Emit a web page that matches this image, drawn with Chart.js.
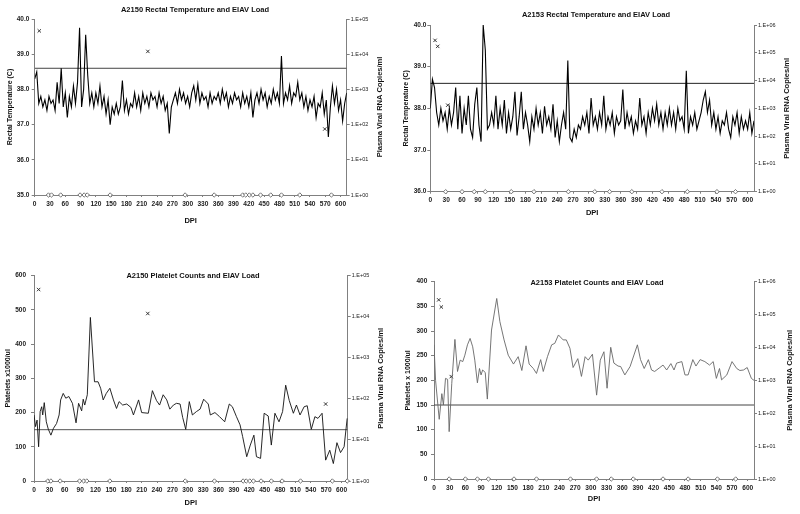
<!DOCTYPE html>
<html>
<head>
<meta charset="utf-8">
<script src="https://cdn.jsdelivr.net/npm/chart.js@4.4.1/dist/chart.umd.min.js"></script>
<style>
  html, body { margin: 0; padding: 0; background: #fff; }
  #wrap { position: relative; width: 800px; height: 514px; }
  canvas { position: absolute; }
</style>
</head>
<body>
<div id="wrap">
  <canvas id="c1" width="400" height="257" style="left:0;top:0"></canvas>
  <canvas id="c2" width="400" height="257" style="left:400px;top:0"></canvas>
  <canvas id="c3" width="400" height="257" style="left:0;top:257px"></canvas>
  <canvas id="c4" width="400" height="257" style="left:400px;top:257px"></canvas>
</div>
<script>
// ---- data ----
const dpiMax = 612;
const tempStep = 4; // days between plotted temperature readings

const tempA2150 = [
  38.3, 38.5, 37.6, 37.8, 37.5, 37.7, 37.4, 37.8, 37.6, 37.7,
  37.4, 38.2, 37.6, 38.6, 37.5, 37.9, 37.2, 37.8, 37.5, 38.1,
  37.6, 38.2, 39.75, 37.5, 38.0, 39.55, 38.4, 37.6, 37.9, 37.5,
  37.9, 37.6, 38.1, 37.5, 37.8, 37.3, 37.7, 37.0, 37.5, 37.3,
  37.6, 37.3, 37.5, 38.25, 37.4, 37.7, 37.3, 37.6, 37.5, 37.9,
  37.5, 37.8, 37.4, 37.9, 37.6, 37.8, 37.5, 37.9, 37.7, 37.8,
  37.5, 37.9, 37.6, 37.8, 37.4, 37.6, 36.75, 37.5, 37.7, 37.9,
  37.6, 38.0, 37.7, 37.9, 37.6, 37.8, 37.5, 37.9, 38.1, 37.7,
  38.15, 37.6, 37.9, 37.7, 37.8, 37.5, 37.9, 37.6, 37.8, 37.7,
  37.9, 37.6, 38.0, 37.7, 37.9, 37.5, 37.8, 37.6, 37.9, 37.7,
  37.8, 37.5, 37.9, 37.6, 37.8, 37.5, 37.9, 37.2, 37.7, 37.9,
  37.6, 38.0, 37.7, 37.9, 37.5, 37.8, 37.6, 38.0, 37.7, 37.9,
  37.6, 38.95, 37.6, 37.9, 37.7, 38.1, 37.6, 37.9, 37.8, 38.2,
  37.7, 37.9, 37.5, 37.8, 37.4, 37.7, 37.5, 37.8, 37.2, 37.6,
  37.5, 37.9, 37.3, 37.7, 36.65, 37.5, 38.1, 37.6, 38.0, 37.4,
  37.7, 37.1, 37.6, 37.9
];

const tempA2153 = [
  38.0, 38.7, 38.5, 37.9, 37.6, 38.0, 37.7, 37.9, 37.5, 38.0,
  37.6, 37.9, 38.5, 37.5, 38.3, 37.4, 38.0, 37.6, 38.3, 37.5,
  37.3, 38.1, 38.5, 37.6, 37.2, 40.0, 39.4, 37.5, 37.6, 37.9,
  37.6, 38.3, 37.5, 38.0, 37.6, 38.2, 37.4, 37.9, 37.5, 37.8,
  38.4, 37.35, 37.8, 38.4, 37.5, 37.9, 37.6, 37.2, 37.8, 37.5,
  38.0, 37.6, 37.9, 37.4, 38.05, 37.6, 37.8, 37.5, 38.1, 37.3,
  37.7, 37.2, 37.6, 37.9, 37.5, 39.15, 37.3, 37.2, 37.5, 37.3,
  37.6, 37.5, 37.8, 37.6, 37.9, 37.4, 38.25, 37.6, 37.8, 37.5,
  37.9, 37.6, 38.3, 37.5, 37.8, 37.6, 37.9, 37.4, 37.8, 37.6,
  37.7, 38.45, 37.5, 37.9, 37.6, 37.8, 37.4, 37.7, 37.5, 38.25,
  37.6, 37.8, 37.4, 37.9, 37.6, 38.0, 37.7, 38.1, 37.6, 37.9,
  37.5, 37.9, 37.6, 38.0, 37.6, 37.9, 37.5, 38.0, 37.7, 37.8,
  37.5, 38.9, 37.4, 37.8, 37.6, 37.9, 37.5, 37.7, 37.9, 38.2,
  38.4, 37.9, 38.2, 37.6, 37.9, 37.5, 37.8, 37.4, 37.7, 37.6,
  37.9, 37.5, 37.3, 37.8, 37.6, 37.9, 37.4, 37.8, 37.5, 37.7,
  37.5, 37.9, 37.4, 37.7
];

const pltA2150Days = [0, 3, 6, 9, 12, 15, 17, 20, 24, 28, 33, 38, 44, 49, 52, 57, 62, 68, 75, 82,
  87, 93, 96, 99, 104, 110, 118, 125, 130, 135, 141, 148, 155, 161, 166, 173, 181, 189, 194, 204,
  210, 223, 231, 239, 245, 252, 259, 265, 272, 278, 285, 290, 296, 303, 309, 317, 324, 331, 340, 344,
  353, 362, 372, 381, 387, 395, 402, 407, 415, 422, 429, 434, 442, 449, 457, 463, 470, 478, 485, 491,
  498, 506, 512, 519, 527, 533, 541, 548, 554, 562, 569, 577, 584, 591, 598, 605, 611];
const pltA2150 = [193, 159, 178, 100, 203, 217, 193, 229, 173, 151, 134, 154, 168, 193, 237, 256, 242, 247, 227, 170,
  227, 205, 239, 222, 252, 478, 290, 290, 271, 237, 256, 271, 237, 212, 232, 222, 225, 215, 193, 237,
  200, 198, 264, 235, 222, 252, 237, 210, 222, 227, 225, 186, 151, 232, 193, 203, 210, 239, 225, 193,
  200, 188, 173, 225, 217, 188, 164, 130, 71, 105, 134, 71, 66, 198, 190, 105, 198, 173, 203, 280,
  235, 198, 222, 193, 217, 220, 151, 188, 183, 198, 61, 90, 51, 112, 83, 100, 183];

const pltA2153Days = [0, 3, 10, 15, 18, 22, 26, 29, 34, 40, 45, 50, 55, 59, 64, 69, 74, 78, 83, 87,
  90, 93, 98, 102, 110, 120, 126, 134, 142, 152, 161, 168, 176, 182, 190, 196, 204, 209, 217, 225,
  231, 238, 247, 253, 260, 266, 275, 282, 289, 295, 303, 311, 318, 325, 331, 338, 344, 352, 357, 365,
  375, 389, 395, 402, 410, 416, 422, 432, 438, 445, 453, 459, 464, 474, 480, 486, 495, 501, 509, 518,
  527, 534, 540, 546, 550, 560, 570, 579, 585, 592, 599, 607, 612];
const pltA2153 = [272, 200, 121, 173, 150, 204, 202, 96, 194, 283, 218, 241, 238, 251, 272, 285, 268, 241, 195, 224,
  211, 221, 216, 162, 302, 366, 319, 282, 251, 233, 248, 220, 270, 233, 224, 214, 242, 218, 248, 272,
  275, 292, 282, 282, 265, 226, 244, 208, 248, 241, 253, 170, 241, 258, 184, 267, 235, 229, 228, 211,
  228, 272, 242, 224, 242, 221, 218, 226, 231, 221, 234, 221, 235, 238, 211, 211, 242, 229, 242, 238,
  231, 238, 204, 224, 201, 211, 238, 224, 220, 221, 226, 204, 200];

const feverLimit = 38.6;
const plateletLimit = 150;

// detectable viral load (copies/ml)
const loadA2150Days = [9, 222, 569];
const loadA2150Copies = [46000, 12000, 75];
const loadA2153Days = [9, 14, 33];
const loadA2153Copies = [280000, 170000, 1300];

// samples below detection (plotted at 1.E+00)
const undetA2150Days = [27, 33, 51, 89, 97, 103, 148, 295, 352, 408, 414, 421, 428, 443, 463, 484, 520, 582];
const undetA2150PltDays = [27, 33, 51, 89, 97, 103, 148, 295, 352, 408, 414, 421, 428, 443, 463, 484, 520, 582, 611];
const undetA2153Days = [29, 60, 83, 104, 153, 196, 261, 311, 339, 381, 438, 486, 542, 577];

// ---- drawing ----
const fam = '"Liberation Sans", Arial, Helvetica, sans-serif';
const axisGray = '#808080';

const panelText = {
  id: 'panelText',
  afterDraw(chart, args, o) {
    const { ctx, chartArea } = chart;
    ctx.save();
    ctx.fillStyle = '#111';
    ctx.textAlign = 'center';
    ctx.textBaseline = 'middle';
    ctx.font = 'bold 7.5px ' + fam;
    ctx.fillText(o.title, o.titleX, o.titleY);
    ctx.translate(o.rightX, (chartArea.top + chartArea.bottom) / 2);
    ctx.rotate(-Math.PI / 2);
    ctx.fillText(o.rightTitle, 0, 0);
    ctx.restore();
  }
};

function makePanel(id, p) {
  const decades = [];
  for (let v = 1; v <= p.rightMax; v *= 10) decades.push({ value: v });

  new Chart(document.getElementById(id), {
    type: 'line',
    data: {
      datasets: [
        {
          data: p.line, yAxisID: 'y', borderColor: p.lineColor, borderWidth: p.lineWidth,
          pointRadius: 0, tension: 0
        },
        {
          data: [{ x: 0, y: p.limit }, { x: dpiMax, y: p.limit }], yAxisID: 'y',
          borderColor: p.limitColor, borderWidth: 1, pointRadius: 0
        },
        {
          data: p.load, yAxisID: 'yR', showLine: false, clip: false,
          pointStyle: 'crossRot', pointRadius: 2.4, borderColor: '#222', borderWidth: 0.9
        },
        {
          data: p.undet, yAxisID: 'yR', showLine: false, clip: false,
          pointStyle: 'rectRot', pointRadius: 2.2, borderColor: '#555',
          backgroundColor: '#fff', borderWidth: 0.8
        }
      ]
    },
    options: {
      responsive: false,
      animation: false,
      events: [],
      layout: { padding: { top: p.top, left: 0, right: 0, bottom: 0 } },
      plugins: {
        legend: { display: false },
        tooltip: { enabled: false },
        panelText: { title: p.title, titleX: p.titleX, titleY: p.titleY, rightTitle: 'Plasma Viral RNA Copies/ml', rightX: p.rightX }
      },
      scales: {
        x: {
          type: 'linear', min: 0, max: dpiMax,
          ticks: {
            stepSize: 30, includeBounds: false, autoSkip: false, maxRotation: 0,
            font: { family: fam, size: 6.6, weight: 'bold' }, color: '#222', padding: 3
          },
          grid: { drawOnChartArea: false, drawTicks: true, tickLength: 2, color: axisGray },
          border: { color: axisGray },
          title: { display: true, text: 'DPI', color: '#111', font: { family: fam, size: 7.5, weight: 'bold' }, padding: { top: 0, bottom: p.xTitlePad } },
          afterFit(s) { s.height = 257 - p.bottom; }
        },
        y: {
          position: 'left', min: p.leftMin, max: p.leftMax,
          ticks: {
            stepSize: p.leftStep, font: { family: fam, size: 6.5, weight: 'bold' }, color: '#222',
            padding: p.leftTickPad, callback: v => v.toFixed(p.leftDecimals)
          },
          grid: { drawOnChartArea: false, drawTicks: true, tickLength: 3, color: axisGray },
          border: { color: axisGray },
          title: { display: true, text: p.leftTitle, color: '#111', font: { family: fam, size: 7, weight: 'bold' }, padding: { top: p.leftTitlePad, bottom: 0 } },
          afterFit(s) { s.width = p.left; }
        },
        yR: {
          type: 'logarithmic', position: 'right', min: 1, max: p.rightMax,
          afterBuildTicks(s) { s.ticks = decades.map(t => ({ value: t.value })); },
          ticks: {
            font: { family: fam, size: 5.5 }, color: '#222', padding: 1,
            callback: v => '1.E+' + String(Math.round(Math.log10(v))).padStart(2, '0')
          },
          grid: { drawOnChartArea: false, drawTicks: true, tickLength: 3, color: axisGray },
          border: { color: axisGray },
          afterFit(s) { s.width = 400 - p.right; }
        }
      }
    },
    plugins: [panelText]
  });
}

const tempPts = arr => arr.map((v, i) => ({ x: i * tempStep, y: v }));
const pairPts = (days, vals) => days.map((d, i) => ({ x: d, y: vals[i] }));
const floorPts = days => days.map(d => ({ x: d, y: 1 }));

makePanel('c1', {
  line: tempPts(tempA2150), lineColor: '#000', lineWidth: 1.1,
  limit: feverLimit, limitColor: '#444',
  load: pairPts(loadA2150Days, loadA2150Copies), undet: floorPts(undetA2150Days),
  leftMin: 35, leftMax: 40, leftStep: 1, leftDecimals: 1, rightMax: 1e5,
  leftTitle: 'Rectal Temperature (C)', leftTitlePad: 5.8, leftTickPad: 2.4,
  title: 'A2150 Rectal Temperature and EIAV Load', titleX: 195, titleY: 10, rightX: 380,
  top: 19, left: 34.7, right: 346.7, bottom: 195, xTitlePad: 31.8
});

makePanel('c2', {
  line: tempPts(tempA2153), lineColor: '#000', lineWidth: 1.1,
  limit: feverLimit, limitColor: '#222',
  load: pairPts(loadA2153Days, loadA2153Copies), undet: floorPts(undetA2153Days),
  leftMin: 36, leftMax: 40, leftStep: 1, leftDecimals: 1, rightMax: 1e6,
  leftTitle: 'Rectal Temperature (C)', leftTitlePad: 2.1, leftTickPad: 1,
  title: 'A2153 Rectal Temperature and EIAV Load', titleX: 196, titleY: 15, rightX: 387,
  top: 25, left: 30.3, right: 354, bottom: 191.7, xTitlePad: 39.2
});

makePanel('c3', {
  line: pairPts(pltA2150Days, pltA2150), lineColor: '#111', lineWidth: 0.9,
  limit: plateletLimit, limitColor: '#555',
  load: pairPts(loadA2150Days, loadA2150Copies), undet: floorPts(undetA2150PltDays),
  leftMin: 0, leftMax: 600, leftStep: 100, leftDecimals: 0, rightMax: 1e5,
  leftTitle: 'Platelets x1000/ul', leftTitlePad: 4.3, leftTickPad: 5,
  title: 'A2150 Platelet Counts and EIAV Load', titleX: 193, titleY: 18.7, rightX: 381,
  top: 18.7, left: 34, right: 347.7, bottom: 224, xTitlePad: 6.8
});

makePanel('c4', {
  line: pairPts(pltA2153Days, pltA2153), lineColor: '#666', lineWidth: 0.9,
  limit: plateletLimit, limitColor: '#444',
  load: pairPts(loadA2153Days, loadA2153Copies), undet: floorPts(undetA2153Days),
  leftMin: 0, leftMax: 400, leftStep: 50, leftDecimals: 0, rightMax: 1e6,
  leftTitle: 'Platelets x 1000/ul', leftTitlePad: 3.8, leftTickPad: 3.7,
  title: 'A2153 Platelet Counts and EIAV Load', titleX: 197, titleY: 26.3, rightX: 389.5,
  top: 24.7, left: 34, right: 354, bottom: 222, xTitlePad: 10.2
});
</script>
</body>
</html>
